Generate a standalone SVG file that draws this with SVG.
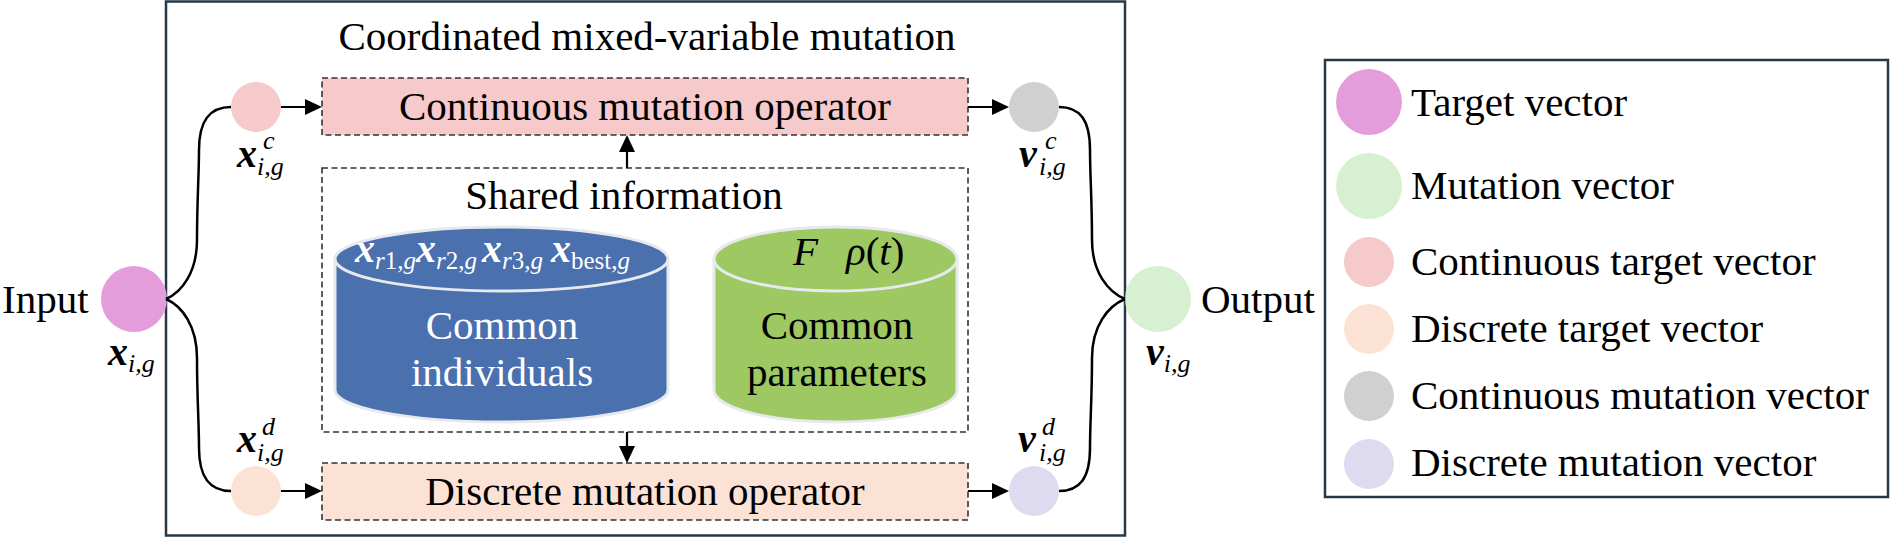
<svg xmlns="http://www.w3.org/2000/svg" width="1891" height="538" viewBox="0 0 1891 538" font-family="'Liberation Serif', 'Times New Roman', 'DejaVu Serif', serif">
<style>
text, tspan { font-family: 'Liberation Serif', 'Times New Roman', 'DejaVu Serif', serif; }
text { fill: #000; }
.t { font-size: 41px; }
.w { fill: #fff; }
.m { font-weight: bold; font-style: italic; font-size: 40px; }
.s { font-style: italic; font-size: 26px; }
.su { font-size: 25px; }
.frame { fill: #fff; stroke: #243A4A; stroke-width: 2.5; }
.dash { stroke: #333; stroke-width: 1.6; stroke-dasharray: 6 3.5; }
.conn { fill: none; stroke: #000; stroke-width: 2.5; }
.arr { fill: none; stroke: #000; stroke-width: 2.2; marker-end: url(#ah); }
.rim { stroke: #E6E9EE; stroke-width: 3; }
</style>
<defs>
<marker id="ah" markerUnits="userSpaceOnUse" markerWidth="18" markerHeight="16" refX="14" refY="8" orient="auto">
<path d="M0,0 L17,8 L0,16 z" fill="#000"/>
</marker>
</defs>

<g id="main-frame">
<rect class="frame" x="166" y="1.5" width="959" height="534"/>
<text class="t" x="647" y="50" text-anchor="middle">Coordinated mixed-variable mutation</text>
</g>

<g id="continuous-operator">
<rect class="dash" x="322" y="78" width="646" height="57" fill="#F6C9CA"/>
<text class="t" x="645" y="120" text-anchor="middle">Continuous mutation operator</text>
</g>

<g id="discrete-operator">
<rect class="dash" x="322" y="463" width="646" height="57" fill="#FBE2D5"/>
<text class="t" x="645" y="505" text-anchor="middle">Discrete mutation operator</text>
</g>

<g id="shared-information">
<rect class="dash" x="322" y="168" width="646" height="264" fill="#fff"/>
<text class="t" x="624" y="209" text-anchor="middle">Shared information</text>
</g>

<g id="common-individuals">
<path class="rim" d="M335,259 L335,390 A166.5,32 0 0 0 668,390 L668,259 Z" fill="#4A70AE"/>
<ellipse class="rim" cx="501.5" cy="259" rx="166.5" ry="32" fill="#4A70AE"/>
<text class="w" y="262"><tspan class="m w" x="355">x</tspan><tspan class="w su" dy="7"><tspan font-style="italic">r</tspan>1,<tspan font-style="italic">g</tspan></tspan><tspan class="m w" x="416" dy="-7">x</tspan><tspan class="w su" dy="7"><tspan font-style="italic">r</tspan>2,<tspan font-style="italic">g</tspan></tspan><tspan class="m w" x="482" dy="-7">x</tspan><tspan class="w su" dy="7"><tspan font-style="italic">r</tspan>3,<tspan font-style="italic">g</tspan></tspan><tspan class="m w" x="551" dy="-7">x</tspan><tspan class="w su" dy="7">best,<tspan font-style="italic">g</tspan></tspan></text>
<text class="t w" x="502" y="339" text-anchor="middle">Common</text>
<text class="t w" x="502" y="386" text-anchor="middle">individuals</text>
</g>

<g id="common-parameters">
<path class="rim" d="M714,259 L714,390 A121.5,32 0 0 0 957,390 L957,259 Z" fill="#9DC862"/>
<ellipse class="rim" cx="835.5" cy="259" rx="121.5" ry="32" fill="#9DC862"/>
<text x="793" y="265" font-size="41" font-style="italic">F</text>
<text x="846" y="265" font-size="41"><tspan font-style="italic">ρ</tspan>(<tspan font-style="italic">t</tspan>)</text>
<text class="t" x="837" y="339" text-anchor="middle">Common</text>
<text class="t" x="837" y="386" text-anchor="middle">parameters</text>
</g>

<g id="input">
<circle cx="134" cy="299" r="33" fill="#E39DDA"/>
<text class="t" x="2" y="313">Input</text>
<text x="108" y="365"><tspan class="m">x</tspan><tspan class="s" dy="7">i,g</tspan></text>
</g>

<g id="x-continuous">
<circle cx="256" cy="107" r="25" fill="#F6C9CA"/>
<text class="m" x="237" y="167">x</text>
<text class="s" x="263" y="149">c</text>
<text class="s" x="257" y="175">i,g</text>
</g>

<g id="x-discrete">
<circle cx="256" cy="491" r="25" fill="#FBE2D5"/>
<text class="m" x="237" y="452">x</text>
<text class="s" x="262" y="435">d</text>
<text class="s" x="257" y="461">i,g</text>
</g>

<g id="v-continuous">
<circle cx="1034" cy="107" r="25" fill="#D0D0D0"/>
<text class="m" x="1019" y="167">v</text>
<text class="s" x="1045" y="149">c</text>
<text class="s" x="1039" y="175">i,g</text>
</g>

<g id="v-discrete">
<circle cx="1034" cy="491" r="25" fill="#DEDBF0"/>
<text class="m" x="1018" y="452">v</text>
<text class="s" x="1042" y="435">d</text>
<text class="s" x="1039" y="461">i,g</text>
</g>

<g id="output">
<circle cx="1158" cy="299" r="33" fill="#D6F0D1"/>
<text class="t" x="1201" y="313">Output</text>
<text x="1146" y="365"><tspan class="m">v</tspan><tspan class="s" dy="7">i,g</tspan></text>
</g>

<g id="connectors">
<path class="conn" d="M166,299 C182,292 197,272 197,240 C197,200 199,175 199,150 C199,120 210,107 231,107"/>
<path class="conn" d="M166,299 C182,306 197,326 197,358 C197,398 199,423 199,448 C199,478 210,491 231,491"/>
<path class="conn" d="M1059,107 C1080,107 1090,120 1090,150 C1090,175 1092,200 1092,240 C1092,272 1108,292 1125,299"/>
<path class="conn" d="M1059,491 C1080,491 1090,478 1090,448 C1090,423 1092,398 1092,358 C1092,326 1108,306 1125,299"/>
<line class="arr" x1="281" y1="107" x2="319" y2="107"/>
<line class="arr" x1="968" y1="107" x2="1006" y2="107"/>
<line class="arr" x1="281" y1="491" x2="319" y2="491"/>
<line class="arr" x1="968" y1="491" x2="1006" y2="491"/>
<line class="arr" x1="627" y1="168" x2="627" y2="138"/>
<line class="arr" x1="627" y1="432" x2="627" y2="460"/>
</g>

<g id="legend">
<rect class="frame" x="1325" y="60" width="563" height="437"/>
<circle cx="1369" cy="102" r="33" fill="#E39DDA"/>
<text class="t" x="1411" y="116">Target vector</text>
<circle cx="1369" cy="186" r="33" fill="#D6F0D1"/>
<text class="t" x="1411" y="199">Mutation vector</text>
<circle cx="1369" cy="262" r="25" fill="#F6C9CA"/>
<text class="t" x="1411" y="275">Continuous target vector</text>
<circle cx="1369" cy="329" r="25" fill="#FBE2D5"/>
<text class="t" x="1411" y="342">Discrete target vector</text>
<circle cx="1369" cy="396" r="25" fill="#D0D0D0"/>
<text class="t" x="1411" y="409">Continuous mutation vector</text>
<circle cx="1369" cy="464" r="25" fill="#DEDBF0"/>
<text class="t" x="1411" y="476">Discrete mutation vector</text>
</g>
</svg>
